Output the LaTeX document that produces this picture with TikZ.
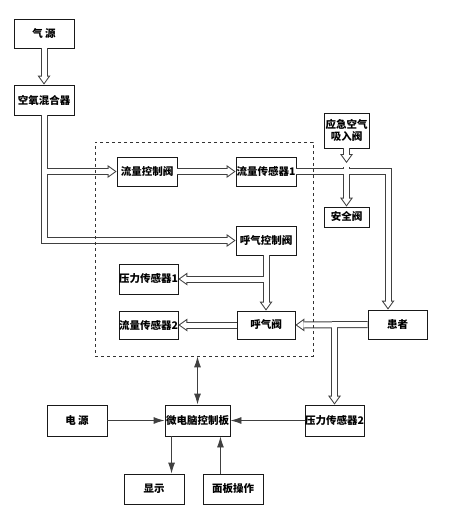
\documentclass[tikz,border=0pt]{standalone}
\usepackage{fontspec}
\newfontfamily\cjk{Noto Sans CJK SC}
\usetikzlibrary{arrows.meta}

% the gas lines, drawn twice: dark walls first, white bore second
\newcommand{\airpaths}{
  \draw [tip] (qy.south) -- (hh.north);
  \draw [tip] (hh.south) -- (hh.south |- hkf.west) -- (hkf.west);
  \draw [tip] (hh.south |- lkf.west) -- (lkf.west);
  \draw [tip] (lkf.east) -- (lcg1.west);
  \draw [tip] (lcg1.east) -- (c1) -- (c1 |- hz.north);
  \draw [tip] (yj.south) -- (j1);
  \draw [tip] (j2) -- (aq.north);
  \draw [tip] (hkf.south) -- (hqf.north);
  \draw [tip] (hkf.south |- yc1.east) -- (yc1.east);
  \draw [tip] (hqf.west) -- (lcg2.east);
  \draw [tip] (hz.west) -- (hqf.east);
  \draw [tip] (yc2.north |- hz.west) -- (yc2.north);
}

\begin{document}
\begin{tikzpicture}[x=1pt,y=-1pt]
  \tikzstyle{every node}+=[inner sep=0pt]
  \tikzstyle{blk}=[draw=black!90,line width=0.9pt,fill=white,align=center,
    font=\cjk\bfseries\fontsize{10.5}{12.5}\selectfont,minimum width=60pt,minimum height=29pt]
  \tikzstyle{sig}=[draw=black!75,line width=0.9pt,-{Latex[length=11pt,width=7pt]}]
  \useasboundingbox (0,0) rectangle (450,514);

  \node [blk] (qy) at (44,33.5) {气~源};
  \node [blk,minimum height=30pt] (hh) at (44,100) {空氧混合器};
  \node [blk] (lkf) at (147,171.5) {流量控制阀};
  \node [blk] (lcg1) at (266,171.5) {流量传感器1};
  \node [blk,minimum width=45pt,minimum height=35pt] (yj) at (346.5,130.5) {应急空气\\吸入阀};
  \node [blk,minimum width=45pt,minimum height=20pt] (aq) at (346.5,217) {安全阀};
  \node [blk] (hkf) at (266,240.5) {呼气控制阀};
  \node [blk,minimum width=59pt,minimum height=30pt] (yc1) at (148.5,279) {压力传感器1};
  \node [blk,minimum width=59pt,minimum height=28pt] (lcg2) at (148.5,325) {流量传感器2};
  \node [blk,minimum width=58pt,minimum height=28pt] (hqf) at (266,325) {呼气阀};
  \node [blk,minimum width=59pt] (hz) at (397.5,324.5) {患者};
  \node [blk,minimum height=31pt] (dy) at (77,420.5) {电~源};
  \node [blk,minimum width=65pt,minimum height=31pt] (wdn) at (197.5,420.5) {微电脑控制板};
  \node [blk,minimum width=57pt,minimum height=31pt] (yc2) at (334.5,420.5) {压力传感器2};
  \node [blk,minimum height=30pt] (xs) at (154,489) {显示};
  \node [blk,minimum height=30pt] (mb) at (233,489) {面板操作};

  \coordinate (c1) at (388,171.5);
  \coordinate (j1) at (346.5,163);
  \coordinate (j2) at (346.5,167);

  \begin{scope}[draw=black!75,line width=7pt,
      tip/.style={-{Triangle[length=9pt,width=13pt,line width=0pt 0 0]}}]
    \airpaths
  \end{scope}
  \begin{scope}[draw=white,line width=5pt,
      tip/.style={shorten >=1.7pt,-{Triangle[length=6.3pt,width=9pt,line width=0pt 0 0]}}]
    \airpaths
  \end{scope}

  \node [draw=black!80,dashed,line width=0.8pt,minimum width=218pt,minimum height=214pt] (kz) at (204,249) {};

  \draw [sig,{Latex[length=11pt,width=7pt]}-{Latex[length=11pt,width=7pt]}] (wdn.north |- kz.south) -- (wdn.north);
  \draw [sig] (dy.east) -- (wdn.west);
  \draw [sig] (yc2.west) -- (wdn.east);
  \draw [sig] ([xshift=7pt]wdn.south west) -- ([xshift=7pt]wdn.south west |- xs.north);
  \draw [sig] ([xshift=-10pt]wdn.south east |- mb.north) -- ([xshift=-10pt]wdn.south east);
\end{tikzpicture}
\end{document}
